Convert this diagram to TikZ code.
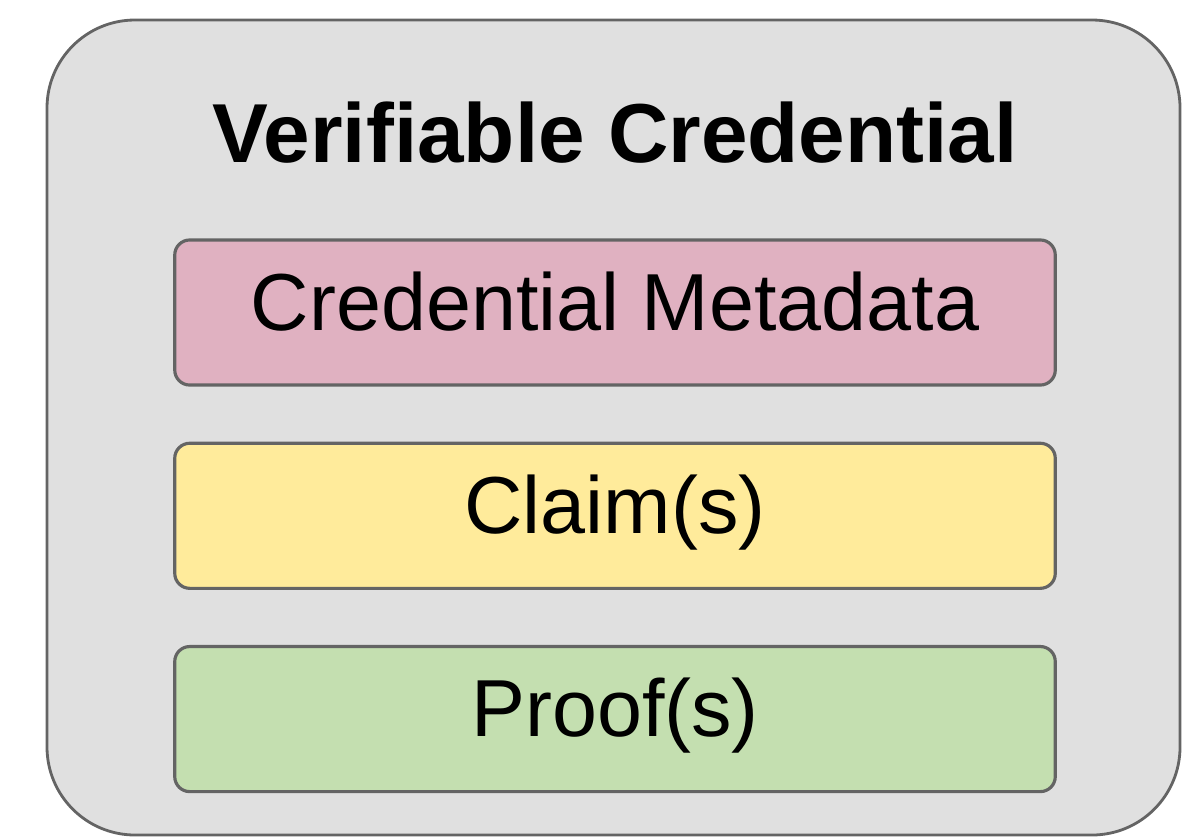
\documentclass[tikz,border=0pt]{standalone}
\usepackage{fontspec}
\setmainfont{Liberation Sans}
\usetikzlibrary{positioning}

\definecolor{vcgray}{HTML}{E0E0E0}
\definecolor{vcline}{HTML}{646464}
\definecolor{metapink}{HTML}{E0B1C1}
\definecolor{claimyellow}{HTML}{FFEB9B}
\definecolor{proofgreen}{HTML}{C4DFB0}

\tikzset{
    part/.style={draw=vcline, line width=0.9pt, rounded corners=0.15cm,
        minimum width=8.8cm, minimum height=1.45cm,
        text height=0.55cm, text depth=0.2cm,
        font=\fontsize{23}{28}\selectfont}
}

\begin{document}
\begin{tikzpicture}[x=0.01cm, y=-0.01cm]
        \useasboundingbox (0,0) rectangle (1183,839);

        % outer credential box
        \filldraw[fill=vcgray, draw=vcline, line width=0.8pt, rounded corners=0.88cm]
            (47,20) rectangle (1180,835);

        \node[anchor=base, font=\bfseries\fontsize{23.8}{28}\selectfont] (title) at (615,162) {Verifiable Credential};

        \node[part, fill=metapink] (meta) at (615,312.5) {Credential Metadata};
        \node[part, fill=claimyellow, below=0.55cm of meta] (claims) {Claim(s)};
        \node[part, fill=proofgreen, below=0.55cm of claims] (proofs) {Proof(s)};

    \end{tikzpicture}
\end{document}
